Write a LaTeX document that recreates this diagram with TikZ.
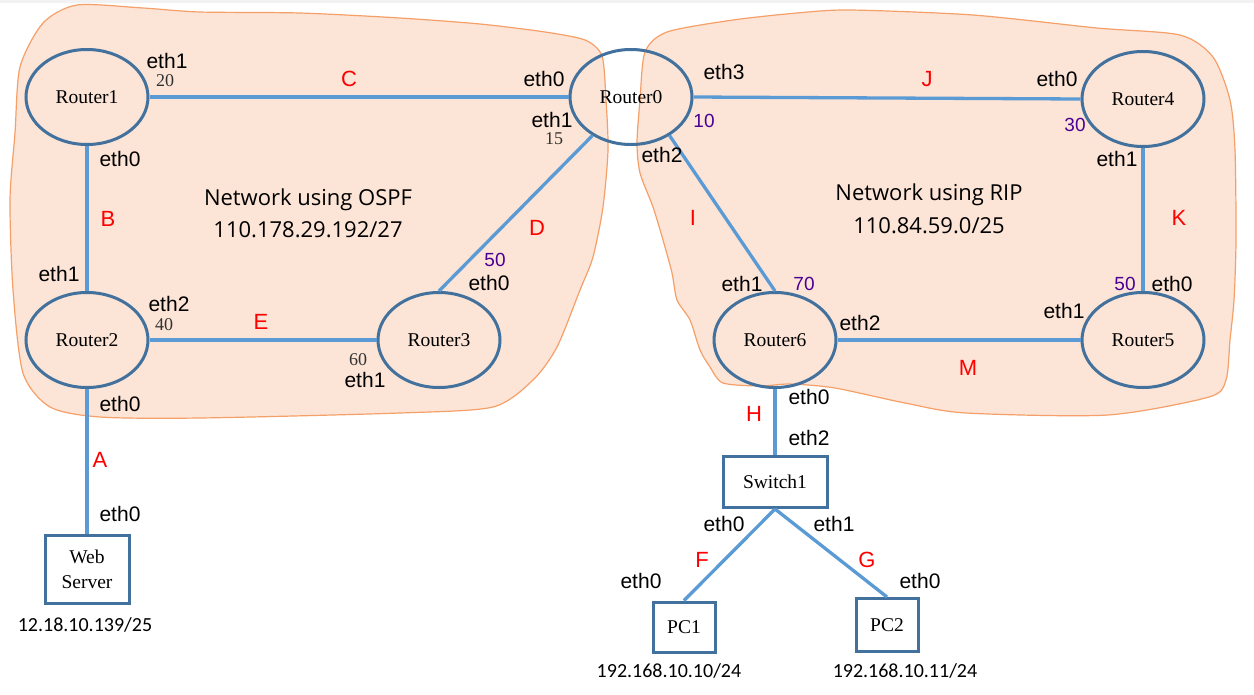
\documentclass[tikz,border=0pt]{standalone}
\usepackage{fontspec}
\setmainfont{Liberation Serif}
\setsansfont{Liberation Sans}
\newfontfamily\netfont{Open Sans}
\newfontfamily\ipfont{Carlito}
\usetikzlibrary{shapes.geometric}

\definecolor{blobfill}{RGB}{252,228,214}
\definecolor{blobline}{RGB}{245,160,105}
\definecolor{devline}{RGB}{65,113,156}
\definecolor{linkline}{RGB}{91,155,213}
\definecolor{linkred}{RGB}{255,0,0}
\definecolor{costpurple}{RGB}{75,0,150}
\definecolor{costgray}{RGB}{50,50,50}
\definecolor{topband}{RGB}{242,242,242}

\tikzset{
  area/.style={fill=blobfill, draw=blobline, line width=1.2pt},
  router/.style={ellipse, draw=devline, line width=3pt, minimum width=122pt,
    minimum height=95pt, inner sep=0pt, font=\fontsize{19.5}{22}\selectfont},
  host/.style={rectangle, draw=devline, line width=3pt, inner sep=0pt,
    align=center, font=\fontsize{19.5}{25}\selectfont},
  link/.style={draw=linkline, line width=3.3pt},
  iface/.style={font=\sffamily\fontsize{21}{24}\selectfont, inner sep=0pt},
  cost/.style={font=\fontsize{18}{19}\selectfont, text=costgray, inner sep=0pt},
  rcost/.style={font=\sffamily\fontsize{19}{21}\selectfont, text=costpurple, inner sep=0pt},
  tag/.style={font=\sffamily\fontsize{22}{24}\selectfont, text=linkred, inner sep=0pt},
  netlabel/.style={font=\netfont\fontsize{22}{26}\selectfont, inner sep=0pt, anchor=base},
  ipaddr/.style={font=\ipfont\fontsize{20}{22}\selectfont, inner sep=0pt}
}

\begin{document}
\begin{tikzpicture}[x=1pt, y=-1pt]
\useasboundingbox (0,0) rectangle (1254,694);
\fill[white] (0,0) rectangle (1254,694);
\fill[topband] (0,0) rectangle (1254,3);

% OSPF area
\path[area] plot[smooth cycle, tension=0.45] coordinates {
  (43,23) (77,5) (143,8) (200,12) (300,13) (400,18) (480,24) (545,32)
  (585,40) (602,56) (606,100) (608,150) (603,207) (593,257) (580,290)
  (557,347) (533,380) (493,407) (400,413) (200,418) (100,417) (50,407)
  (23,373) (13,290) (10,200) (15,133) (20,67)};

% RIP area
\path[area] plot[smooth cycle, tension=0.45] coordinates {
  (667,32) (733,20) (797,13) (850,10) (973,15) (1097,28) (1180,35)
  (1213,57) (1230,100) (1235,150) (1236,240) (1234,300) (1230,340)
  (1226,380) (1209,397) (1108,415) (966,413) (905,403) (835,388)
  (790,384) (760,386) (723,383) (710,367) (700,350) (690,320) (677,300)
  (672,273) (663,240) (653,207) (640,173) (637,143) (640,100) (645,52)};

% devices
\node[router] (r1) at (87,97)   {Router1};
\node[router] (r0) at (631,97)  {Router0};
\node[router] (r4) at (1143,99) {Router4};
\node[router] (r2) at (87,340)  {Router2};
\node[router] (r3) at (439,340) {Router3};
\node[router] (r6) at (775,340) {Router6};
\node[router] (r5) at (1143,340){Router5};
\node[host, minimum width=84pt, minimum height=68pt] (web) at (87,569) {Web\\Server};
\node[host, minimum width=104pt, minimum height=51pt] (sw) at (775,482) {Switch1};
\node[host, minimum width=62pt, minimum height=50pt] (pc1) at (684,627) {PC1};
\node[host, minimum width=62pt, minimum height=53pt] (pc2) at (887,625) {PC2};

% links
\draw[link] (r1.east) -- (r0.west);
\draw[link] (r1.south) -- (r2.north);
\draw[link] (r2.south) -- (web.north);
\draw[link] (r2.east) -- (r3.west);
\draw[link] (r0.225) -- (r3.north);
\draw[link] (r0.-45) -- (r6.north);
\draw[link] (r0.east) -- (r4.west);
\draw[link] (r4.south) -- (r5.north);
\draw[link] (r6.east) -- (r5.west);
\draw[link] (r6.south) -- (sw.north);
\draw[link] (sw.south) -- (pc1.north);
\draw[link] (sw.south) -- (pc2.north);

% link names
\node[tag] (tA) at (100,460) {A};
\node[tag] (tB) at (108,219) {B};
\node[tag] (tC) at (349,79)  {C};
\node[tag] (tD) at (537,228) {D};
\node[tag] (tE) at (261,322) {E};
\node[tag] (tF) at (702,560) {F};
\node[tag] (tG) at (867,560) {G};
\node[tag] (tH) at (754,414) {H};
\node[tag] (tI) at (693,218) {I};
\node[tag] (tJ) at (927,79)  {J};
\node[tag] (tK) at (1179,218){K};
\node[tag] (tM) at (968,368) {M};

% interfaces
\node[iface] (i1a) at (167,61)  {eth1};
\node[iface] (i1b) at (120,159) {eth0};
\node[iface] (i0a) at (544,79)  {eth0};
\node[iface] (i0b) at (552,120) {eth1};
\node[iface] (i0c) at (724,72)  {eth3};
\node[iface] (i0d) at (662,155) {eth2};
\node[iface] (i4a) at (1057,79) {eth0};
\node[iface] (i4b) at (1117,159){eth1};
\node[iface] (i2a) at (59,274)  {eth1};
\node[iface] (i2b) at (169,304) {eth2};
\node[iface] (i2c) at (120,404) {eth0};
\node[iface] (i3a) at (489,283) {eth0};
\node[iface] (i3b) at (365,380) {eth1};
\node[iface] (iwa) at (120,514) {eth0};
\node[iface] (i6a) at (742,284) {eth1};
\node[iface] (i6b) at (860,323) {eth2};
\node[iface] (i6c) at (809,397) {eth0};
\node[iface] (i5a) at (1172,284){eth0};
\node[iface] (i5b) at (1064,311){eth1};
\node[iface] (isa) at (809,438) {eth2};
\node[iface] (isb) at (724,524) {eth0};
\node[iface] (isc) at (834,524) {eth1};
\node[iface] (ipa) at (641,581) {eth0};
\node[iface] (ipb) at (920,581) {eth0};

% OSPF costs
\node[cost] (c20) at (165,81)  {20};
\node[cost] (c15) at (554,139) {15};
\node[cost] (c40) at (164,325) {40};
\node[cost] (c60) at (358,360) {60};
\node[rcost] (c50a) at (495,260) {50};

% RIP metrics
\node[rcost] (c10) at (704,121)  {10};
\node[rcost] (c30) at (1075,125) {30};
\node[rcost] (c70) at (804,284)  {70};
\node[rcost] (c50b) at (1125,284){50};

% network captions
\node[netlabel] (ospfname) at (308,205) {Network using OSPF};
\node[netlabel] (ospfaddr) at (308,237) {110.178.29.192/27};
\node[netlabel] (ripname)  at (929,200) {Network using RIP};
\node[netlabel] (ripaddr)  at (929,233) {110.84.59.0/25};

% host addresses
\node[ipaddr] (ipweb) at (85,625)  {12.18.10.139/25};
\node[ipaddr] (ippc1) at (669,671) {192.168.10.10/24};
\node[ipaddr] (ippc2) at (905,671) {192.168.10.11/24};
\end{tikzpicture}
\end{document}
